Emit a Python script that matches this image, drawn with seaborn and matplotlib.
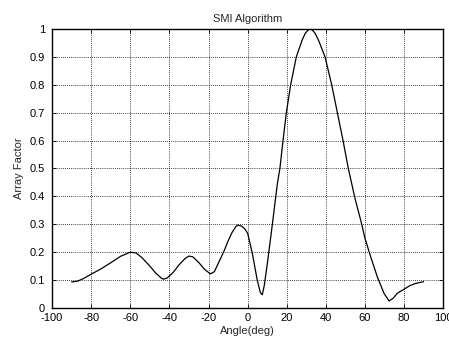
import numpy as np
import pandas as pd
import seaborn as sns
import matplotlib
matplotlib.use("Agg")
import matplotlib.pyplot as plt

# values
angle_deg = [-90, -87, -84, -80, -75, -70, -65, -60, -57, -54, -50, -47, -44, -43,
             -41, -38, -35, -32, -30, -28, -25, -22, -19, -17, -15, -12, -10, -8,
             -6, -5, -3, -1.5, 0, 2.4, 4.9, 6.5, 7.5, 8.5, 10.1, 12.6, 15.2, 16.5,
             18.1, 19.8, 22, 24.9, 27.9, 29.5, 31, 32, 33, 34.5, 36.2, 39.6, 43,
             45.9, 48.8, 51.5, 55, 58, 60, 62.9, 66.3, 69.7, 72.3, 74.5, 76.6, 80,
             83, 86, 90]
array_factor = [0.093, 0.096, 0.105, 0.121, 0.140, 0.162, 0.185, 0.200, 0.197, 0.180,
                0.150, 0.125, 0.106, 0.103, 0.108, 0.128, 0.155, 0.177, 0.186, 0.183,
                0.163, 0.138, 0.122, 0.130, 0.160, 0.205, 0.240, 0.270, 0.292, 0.297,
                0.293, 0.284, 0.268, 0.196, 0.100, 0.055, 0.047, 0.080, 0.160, 0.297,
                0.445, 0.500, 0.600, 0.700, 0.800, 0.900, 0.961, 0.985, 0.997, 1.000,
                0.997, 0.985, 0.961, 0.900, 0.800, 0.700, 0.600, 0.500, 0.390, 0.310,
                0.250, 0.184, 0.112, 0.053, 0.025, 0.035, 0.053, 0.067, 0.080, 0.088,
                0.094]
x_ticks = [-100, -80, -60, -40, -20, 0, 20, 40, 60, 80, 100]
y_ticks = [0, 0.1, 0.2, 0.3, 0.4, 0.5, 0.6, 0.7, 0.8, 0.9, 1]
y_labels = ["0", "0.1", "0.2", "0.3", "0.4", "0.5", "0.6", "0.7", "0.8", "0.9", "1"]

df = pd.DataFrame({"angle": angle_deg, "af": array_factor})

sns.set_style("ticks")
plt.rcParams["font.family"] = ["Liberation Sans", "DejaVu Sans"]
plt.rcParams["font.size"] = 8

fig = plt.figure(figsize=(4.49, 3.38), dpi=100)
ax = fig.add_axes([0.116, 0.089, 0.871, 0.825])

sns.lineplot(data=df, x="angle", y="af", ax=ax, color="black", linewidth=0.9,
             estimator=None)

ax.set_xlim(-100, 100)
ax.set_ylim(0, 1)
ax.set_xticks(x_ticks)
ax.set_yticks(y_ticks)
ax.set_xticklabels([str(t) for t in x_ticks])
ax.set_yticklabels(y_labels)
ax.grid(True, color="black", linestyle=(0, (1, 1.5)), linewidth=0.6)
ax.tick_params(direction="in", length=3, width=0.6, top=True, right=True,
               labelsize=8, colors="black")
ax.tick_params(axis="x", pad=3.5)
ax.tick_params(axis="y", pad=5)
for s in ax.spines.values():
    s.set_visible(True)
    s.set_linewidth(1.0)
    s.set_color("black")

ax.set_title("SMI Algorithm", fontsize=8, pad=5)
ax.set_xlabel("Angle(deg)", fontsize=8, labelpad=2.5)
ax.set_ylabel("Array Factor", fontsize=8, labelpad=4)

fig.savefig("out.png", dpi=100)
